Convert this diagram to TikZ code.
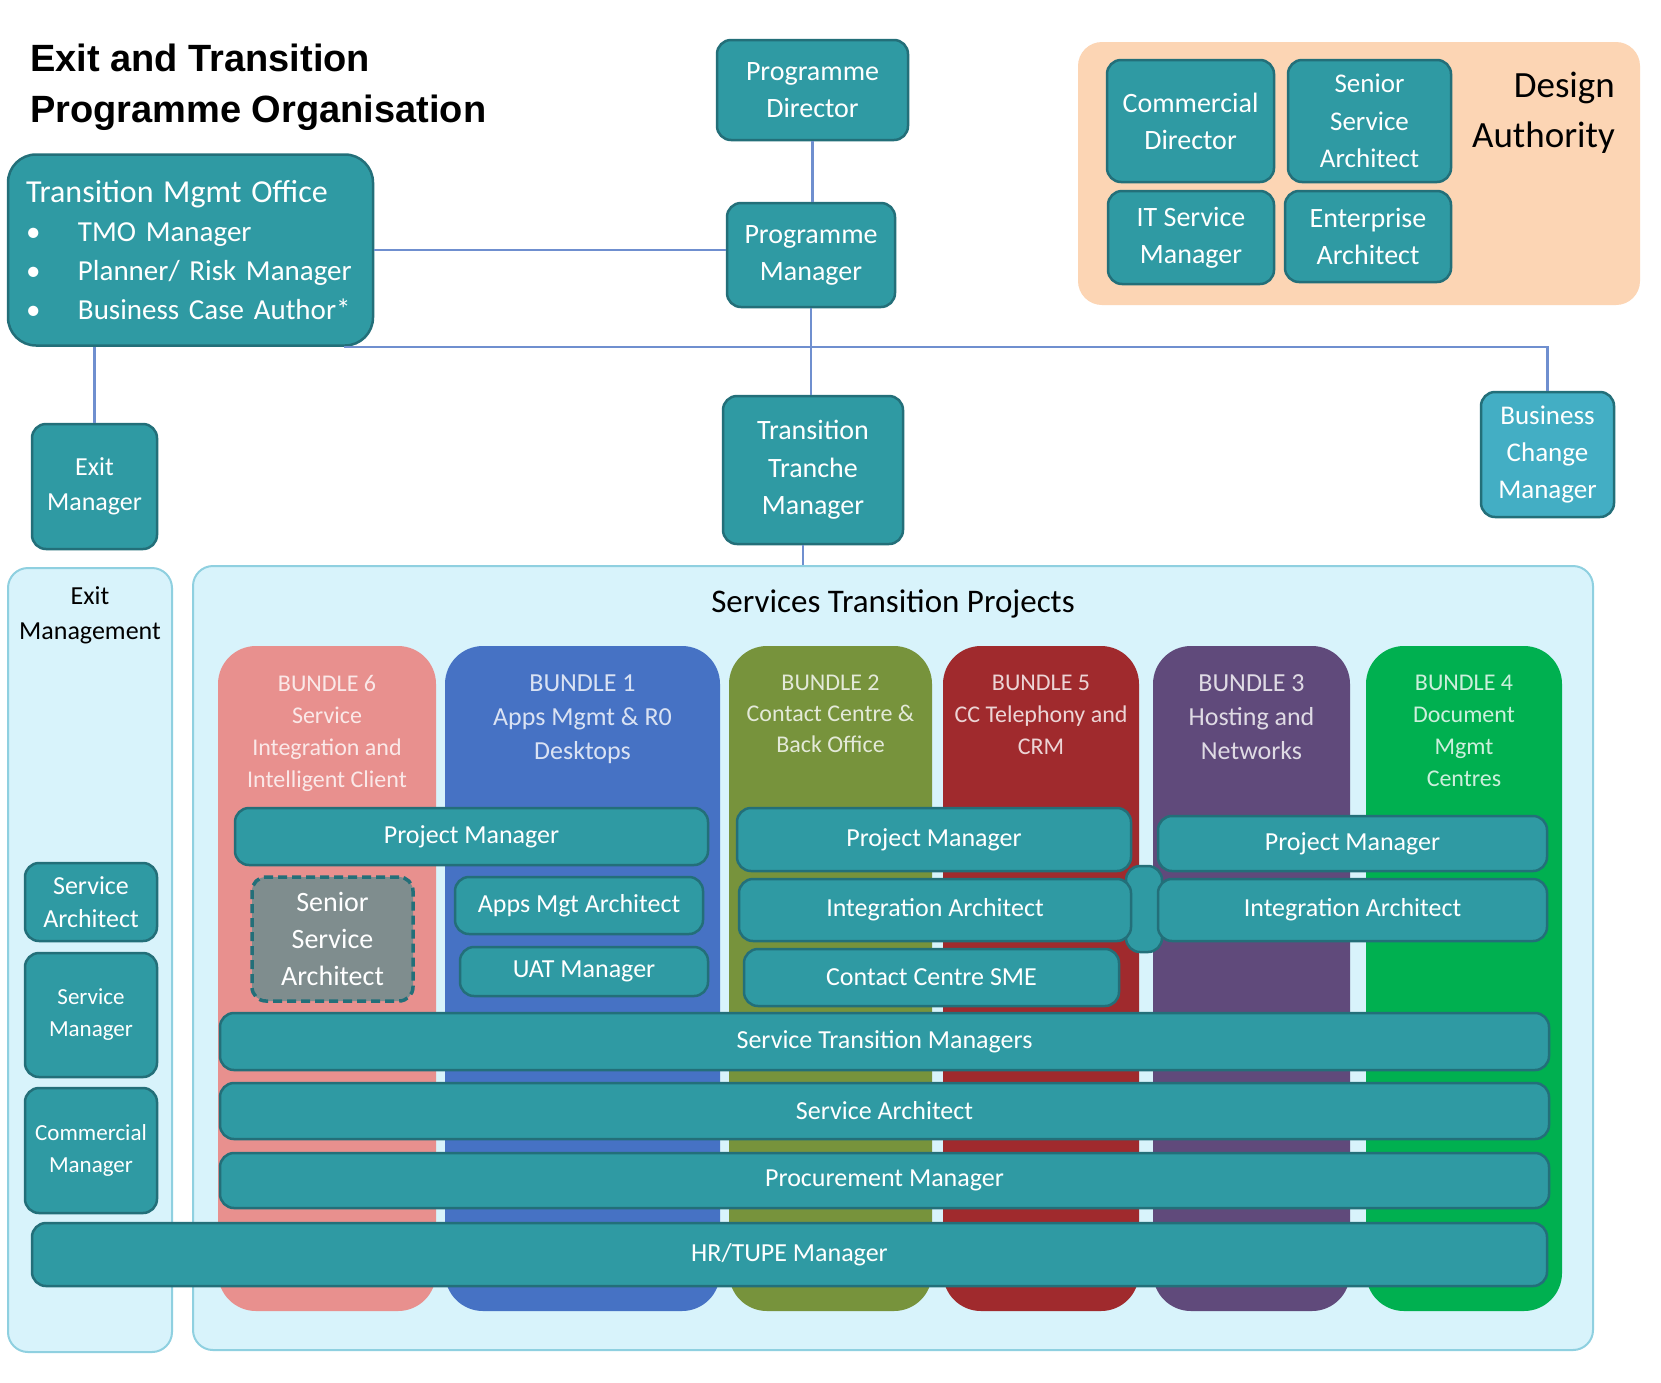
\documentclass[tikz,border=0pt]{standalone}
\usepackage{fontspec}
\setmainfont{Carlito}
\newfontfamily\titlefont{Liberation Sans}
\usetikzlibrary{calc}

\definecolor{tealbox}{HTML}{2F9AA3}
\definecolor{tealedge}{HTML}{236F79}
\definecolor{tealpale}{HTML}{43AEC4}
\definecolor{linkblue}{HTML}{6F8FCF}
\definecolor{skypale}{HTML}{D8F3FB}
\definecolor{skyedge}{HTML}{8FD0E0}
\definecolor{peach}{HTML}{FCD5B4}
\definecolor{bsalmon}{HTML}{E8908E}
\definecolor{bblue}{HTML}{4672C4}
\definecolor{bolive}{HTML}{77933C}
\definecolor{bred}{HTML}{A02A2D}
\definecolor{bpurple}{HTML}{604A7B}
\definecolor{bgreen}{HTML}{00B050}
\definecolor{slategrey}{HTML}{7F8D8E}

\newcommand{\fsz}[2]{\fontsize{#1}{#2}\selectfont}

\begin{document}
\begin{tikzpicture}[x=1pt,y=-1pt,
    role/.style={draw=tealedge,fill=tealbox,line width=2.5pt,rounded corners=14pt,
        text=white,align=center,inner sep=0pt,font=\fsz{28}{37}},
    row/.style={role,font=\fsz{26}{34}},
    panel/.style={draw=skyedge,fill=skypale,line width=2pt,rounded corners=20pt,inner sep=0pt},
    bundle/.style={rounded corners=38pt,inner sep=0pt,minimum height=665pt},
    bundlelbl/.style={anchor=north,yshift=-29pt,align=center,text=white,text opacity=0.8,inner sep=0pt},
    link/.style={draw=linkblue,line width=2.5pt}]
        \useasboundingbox[fill=white] (0,0) rectangle (1661,1382);

        % the two big panels and the design authority
        \node[panel, minimum width=164pt, minimum height=784pt] (exitpanel) at (90,960) {};
        \node[panel, minimum width=1400pt, minimum height=784pt] (stp) at (893,958) {};
        \node[panel, draw=none, fill=peach, rounded corners=24pt, minimum width=562pt, minimum height=263pt] (da) at (1359,173.5) {};

        % plain texts
        \node[font=\titlefont\bfseries\fsz{38}{51}, align=left, anchor=north west, inner sep=0pt] (title) at (30,44) {Exit and Transition\\Programme Organisation};
        \node[font=\fsz{26}{35}, align=center] (exitlbl) at (90,615) {Exit\\Management};
        \node[font=\fsz{33}{38}] (stplbl) at (893,604) {Services Transition Projects};
        \node[font=\fsz{37}{50}, align=right, anchor=north east, inner sep=0pt] (dalbl) at (1615,72) {Design\\Authority};

        % the bundles
        \foreach \nm/\cx/\w/\col/\fs/\ls/\txt in {
            b6/327/218/bsalmon/24/32/{BUNDLE 6\\Service\\Integration and\\Intelligent Client},
            b1/582.5/275/bblue/26/34/{BUNDLE 1\\Apps Mgmt \& R0\\Desktops},
            b2/830.5/203/bolive/24/31/{BUNDLE 2\\Contact Centre \&\\Back Office},
            b5/1041/196/bred/24/32/{BUNDLE 5\\CC Telephony and\\CRM},
            b3/1251.5/197/bpurple/26/34/{BUNDLE 3\\Hosting and\\Networks},
            b4/1464/196/bgreen/24/32/{BUNDLE 4\\Document\\Mgmt\\Centres}}
                \node[bundle, fill=\col, minimum width=\w pt,
                    label={[bundlelbl, font=\fsz{\fs}{\ls}]north:\txt}] (\nm) at (\cx,978.5) {};

        % small piece showing between bundle 5 and bundle 3
        \draw[fill=tealbox, draw=tealedge, line width=2.5pt, rounded corners=14pt] (1126,866) rectangle (1162,952);

        % roles inside the bundles
        \node[row, minimum width=473pt, minimum height=57pt] (pm1) at (471.5,836.5) {Project Manager};
        \node[row, fill=slategrey, dash pattern=on 9pt off 5pt, line width=3.5pt,
            minimum width=161pt, minimum height=124pt, font=\fsz{28}{37}] (ssa1) at (332.5,939) {Senior\\Service\\Architect};
        \node[row, minimum width=248pt, minimum height=57pt] (ama) at (579,905.5) {Apps Mgt Architect};
        \node[row, minimum width=248pt, minimum height=49pt] (uat) at (584,971.5) {UAT Manager};
        \node[row, minimum width=394pt, minimum height=63pt] (pm2) at (934,839.5) {Project Manager};
        \node[row, minimum width=392pt, minimum height=62pt] (ia2) at (935,910) {Integration Architect};
        \node[row, minimum width=375pt, minimum height=57pt] (ccsme) at (931.5,977.5) {Contact Centre SME};
        \node[row, minimum width=389pt, minimum height=55pt] (pm3) at (1352.5,843.5) {Project Manager};
        \node[row, minimum width=389pt, minimum height=62pt] (ia3) at (1352.5,910) {Integration Architect};
        \node[row, minimum width=1329pt, minimum height=57pt] (stm) at (884.5,1041.5) {Service Transition Managers};
        \node[row, minimum width=1329pt, minimum height=56pt] (sarch) at (884.5,1111) {Service Architect};
        \node[row, minimum width=1329pt, minimum height=55pt] (proc) at (884.5,1180.5) {Procurement Manager};
        \node[row, minimum width=1515pt, minimum height=63pt] (hr) at (789.5,1254.5) {HR/TUPE Manager};

        % roles in exit management
        \node[role, minimum width=132pt, minimum height=78pt, font=\fsz{26}{33}] (esa) at (91,902) {Service\\Architect};
        \node[role, minimum width=132pt, minimum height=124pt, font=\fsz{23}{32}] (esm) at (91,1015) {Service\\Manager};
        \node[role, minimum width=132pt, minimum height=125pt, font=\fsz{23}{32}] (ecm) at (91,1150.5) {Commercial\\Manager};

        % programme roles
        \node[role, minimum width=191pt, minimum height=100pt] (pdir) at (812.5,90) {Programme\\Director};
        \node[role, minimum width=168pt, minimum height=104pt] (pmgr) at (811,255) {Programme\\Manager};
        \node[role, minimum width=180pt, minimum height=148pt, font=\fsz{28}{37.5}] (ttm) at (813,470) {Transition\\Tranche\\Manager};
        \node[role, minimum width=125pt, minimum height=125pt, font=\fsz{26}{35}] (exitmgr) at (94.5,486.5) {Exit\\Manager};
        \node[role, fill=tealpale, minimum width=133pt, minimum height=125pt, font=\fsz{27}{37}] (bcm) at (1547.5,454.5) {Business\\Change\\Manager};
        \node[role, rounded corners=28pt, minimum width=365pt, minimum height=191pt,
            text width=329pt, align=left, font=\fsz{29}{39}] (tmo) at (190.5,250)
            {{\fsz{32}{39}Transition Mgmt Office}\\
             \makebox[52pt][l]{\textbullet}TMO Manager\\
             \makebox[52pt][l]{\textbullet}Planner/ Risk Manager\\
             \makebox[52pt][l]{\textbullet}Business Case Author*};

        % design authority roles
        \node[role, minimum width=167pt, minimum height=122pt] (cdir) at (1190.5,121) {Commercial\\Director};
        \node[role, minimum width=163pt, minimum height=122pt, font=\fsz{27}{37.5}] (ssa2) at (1369.5,121) {Senior\\Service\\Architect};
        \node[role, minimum width=166pt, minimum height=93pt] (itsm) at (1191,237.5) {IT Service\\Manager};
        \node[role, minimum width=166pt, minimum height=91pt] (ea) at (1368,236.5) {Enterprise\\Architect};

        % reporting lines
        \draw[link] (pdir.south) -- (pdir.south |- pmgr.north);
        \draw[link] (tmo.east) -- (tmo.east -| pmgr.west);
        \draw[link] (pmgr.south) -- (pmgr.south |- ttm.north);
        \draw[link] ([xshift=-30pt]tmo.south east) -- (tmo.south east -| bcm.north) -- (bcm.north);
        \draw[link] (tmo.south -| exitmgr.north) -- (exitmgr.north);
        \draw[link] ([xshift=-10pt]ttm.south) -- ([xshift=-10pt]ttm.south |- stp.north);
\end{tikzpicture}
\end{document}
